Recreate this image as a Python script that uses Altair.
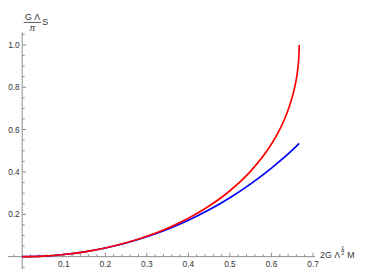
import altair as alt
import pandas as pd

# ---------------- data ----------------
red_x = [0, 0.05, 0.1, 0.15, 0.2, 0.25, 0.3, 0.35, 0.4, 0.45, 0.5, 0.55, 0.6,
         0.62, 0.63, 0.64, 0.65, 0.655, 0.66, 0.663, 0.665, 0.666, 0.6664, 0.6666, 0.6667]
red_y = [0, 0.0025, 0.0101, 0.0228, 0.0411, 0.0653, 0.0961, 0.1343, 0.1812, 0.2391, 0.3112, 0.4040, 0.5319,
         0.6012, 0.6431, 0.6922, 0.7535, 0.7921, 0.8411, 0.8813, 0.9194, 0.9488, 0.9675, 0.9837, 1.0]

blue_x = [0, 0.05, 0.1, 0.15, 0.2, 0.25, 0.3, 0.35, 0.4, 0.45, 0.5, 0.55, 0.6, 0.65, 0.6667]
blue_y = [0, 0.0025, 0.0100, 0.0227, 0.0407, 0.0643, 0.0937, 0.1293, 0.1715, 0.2210, 0.2781, 0.3437, 0.4183, 0.5028, 0.535]

x_major = [0.1, 0.2, 0.3, 0.4, 0.5, 0.6, 0.7]
x_labels = ["0.1", "0.2", "0.3", "0.4", "0.5", "0.6", "0.7"]
x_minor = [-0.02, 0.02, 0.04, 0.06, 0.08, 0.12, 0.14, 0.16, 0.18, 0.22, 0.24, 0.26, 0.28,
           0.32, 0.34, 0.36, 0.38, 0.42, 0.44, 0.46, 0.48, 0.52, 0.54, 0.56, 0.58,
           0.62, 0.64, 0.66, 0.68]
y_major = [0.2, 0.4, 0.6, 0.8, 1.0]
y_labels = ["0.2", "0.4", "0.6", "0.8", "1.0"]
y_minor = [-0.05, 0.05, 0.1, 0.15, 0.25, 0.3, 0.35, 0.45, 0.5, 0.55, 0.65, 0.7, 0.75,
           0.85, 0.9, 0.95, 1.05]

x_axis_range = [-0.04, 0.705]
y_axis_range = [-0.06, 1.06]

y_title_num = ["G Λ"]
y_title_den = ["π"]
y_title_right = ["S"]
x_title_main = ["2G Λ"]
x_title_sup_num = ["1"]
x_title_sup_den = ["2"]
x_title_end = ["M"]

# ---------------- layout ----------------
W, H = 358, 265
PX_X, X0 = 425.0, 14.5      # pixels per x unit, canvas x of x=0
PX_Y, Y0 = 216.6, 251.3     # pixels per y unit, canvas y of y=0
xs = alt.Scale(domain=[-X0 / PX_X, (W - X0) / PX_X], nice=False, zero=False)
ys = alt.Scale(domain=[-(H - Y0) / PX_Y, Y0 / PX_Y], nice=False, zero=False)

AX = "#8a8a8a"
LAB = "#333333"
FONT = "Liberation Sans"
TMAJ, TMIN = 4.0, 2.5

one = pd.DataFrame({"k": [0]})


def xd(v):
    return alt.XDatum(v, scale=xs, axis=None)


def yd(v):
    return alt.YDatum(v, scale=ys, axis=None)


# axis lines
x_line = alt.Chart(one).mark_rule(color=AX, strokeWidth=1).encode(
    x=xd(x_axis_range[0]), x2=alt.X2Datum(x_axis_range[1]), y=yd(0))
y_line = alt.Chart(one).mark_rule(color=AX, strokeWidth=1).encode(
    x=xd(0), y=yd(y_axis_range[0]), y2=alt.Y2Datum(y_axis_range[1]))


# ticks (pointing inward)
def xticks(vals, size):
    return alt.Chart(pd.DataFrame({"v": vals})).mark_rule(color=AX, strokeWidth=1).encode(
        x=alt.X("v:Q", scale=xs, axis=None), y=yd(0), y2=alt.Y2Datum(size / PX_Y))


def yticks(vals, size):
    return alt.Chart(pd.DataFrame({"v": vals})).mark_rule(color=AX, strokeWidth=1).encode(
        y=alt.Y("v:Q", scale=ys, axis=None), x=xd(0), x2=alt.X2Datum(size / PX_X))


# tick labels
x_tick_labels = alt.Chart(pd.DataFrame({"v": x_major, "t": x_labels})).mark_text(
    font=FONT, fontSize=8.5, color=LAB, align="center", baseline="top", dy=3.5).encode(
    x=alt.X("v:Q", scale=xs, axis=None), y=yd(0), text="t:N")
y_tick_labels = alt.Chart(pd.DataFrame({"v": y_major, "t": y_labels})).mark_text(
    font=FONT, fontSize=8.5, color=LAB, align="right", baseline="middle", dx=-2.5).encode(
    y=alt.Y("v:Q", scale=ys, axis=None), x=xd(0), text="t:N")

# curves
blue = alt.Chart(pd.DataFrame({"x": blue_x, "y": blue_y})).mark_line(
    color="#0000ff", strokeWidth=1.7, interpolate="monotone").encode(
    x=alt.X("x:Q", scale=xs, axis=None), y=alt.Y("y:Q", scale=ys, axis=None))
red = alt.Chart(pd.DataFrame({"x": red_x, "y": red_y})).mark_line(
    color="#ff0000", strokeWidth=1.7, interpolate="monotone").encode(
    x=alt.X("x:Q", scale=xs, axis=None), y=alt.Y("y:Q", scale=ys, axis=None))


def label(txt, xv, yv, dx, dy, size=9, align="left", baseline="alphabetic", style="normal"):
    return alt.Chart(pd.DataFrame({"t": txt})).mark_text(
        font=FONT, fontSize=size, color=LAB, align=align, baseline=baseline,
        dx=dx, dy=dy, fontStyle=style).encode(x=xd(xv), y=yd(yv), text="t:N")


ytop = y_axis_range[1]
y_title = [
    label(y_title_num, 0, ytop, 10.5, -12.8, size=9, align="center"),
    alt.Chart(one).mark_rule(color=LAB, strokeWidth=0.8, xOffset=1.5, x2Offset=19.5,
                             yOffset=-10).encode(x=xd(0), x2=alt.X2Datum(0), y=yd(ytop)),
    label(y_title_den, 0, ytop, 10.5, -1.5, size=9, align="center", style="italic"),
    label(y_title_right, 0, ytop, 20.5, -10, size=9, baseline="middle"),
]

xend = x_axis_range[1]
x_title = [
    label(x_title_main, xend, 0, 5, 1, size=9),
    label(x_title_sup_num, xend, 0, 28.3, -7.0, size=5.5, align="center"),
    alt.Chart(one).mark_rule(color=LAB, strokeWidth=0.6, xOffset=26.6, x2Offset=30.0,
                             yOffset=-5.8).encode(x=xd(xend), x2=alt.X2Datum(xend), y=yd(0)),
    label(x_title_sup_den, xend, 0, 28.3, -1.2, size=5.5, align="center"),
    label(x_title_end, xend, 0, 33, 1, size=9),
]

chart = alt.layer(
    x_line, y_line,
    xticks(x_major, TMAJ), xticks(x_minor, TMIN),
    yticks(y_major, TMAJ), yticks(y_minor, TMIN),
    x_tick_labels, y_tick_labels,
    blue, red,
    *y_title, *x_title,
).properties(
    width=W, height=H, autosize=alt.AutoSizeParams(type="none"), padding=0,
    background="white",
).configure_view(stroke=None)

chart.save("out.html", embed_options={"renderer": "svg", "actions": False})
